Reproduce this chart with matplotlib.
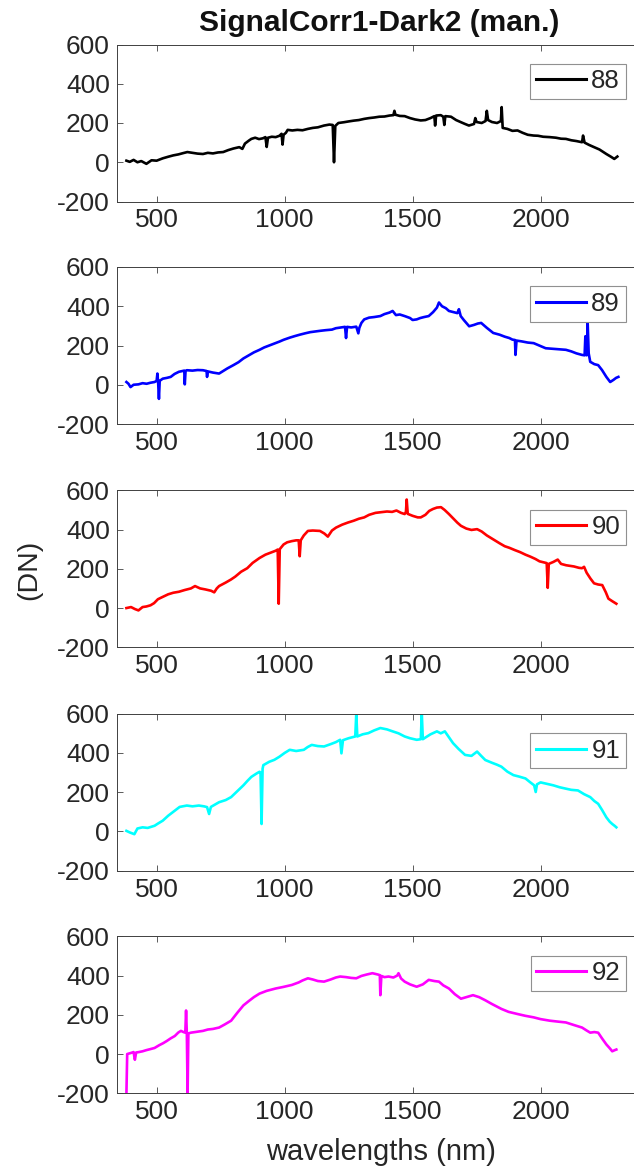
import matplotlib
matplotlib.use('Agg')
import matplotlib.pyplot as plt

plt.rcParams['font.family'] = ['Liberation Sans', 'DejaVu Sans']
plt.rcParams['axes.unicode_minus'] = False

# ---------------- data ----------------
labels = ['88', '89', '90', '91', '92']
colors = ['#000000', '#0000ff', '#ff0000', '#00ffff', '#ff00ff']
xticks = [500, 1000, 1500, 2000]
yticks = [-200, 0, 200, 400, 600]
title = 'SignalCorr1-Dark2 (man.)'
xlabel = 'wavelengths (nm)'
ylabel = '(DN)'

wl88 = [382, 395, 410, 425, 440, 460, 480, 500, 524, 545, 565, 585, 602, 620, 640, 660, 681, 700, 720, 740,
        760, 780, 800, 823, 835, 845, 860, 870, 885, 900, 915, 925, 930, 935, 950, 965, 980, 988, 992, 996,
        1005, 1012, 1030, 1050, 1070, 1091, 1110, 1130, 1154, 1175, 1188, 1193, 1198, 1210, 1232, 1250, 1270,
        1290, 1311, 1330, 1350, 1370, 1390, 1410, 1425, 1429, 1433, 1450, 1469, 1490, 1510, 1532, 1550, 1570,
        1585, 1588, 1592, 1610, 1620, 1624, 1628, 1650, 1670, 1689, 1705, 1720, 1740, 1745, 1750, 1770, 1785,
        1790, 1795, 1810, 1830, 1845, 1848, 1852, 1870, 1890, 1910, 1930, 1950, 1973, 1990, 2010, 2036, 2060,
        2080, 2099, 2120, 2140, 2162, 2166, 2172, 2190, 2209, 2230, 2257, 2275, 2288, 2300]
dn88 = [8, 2, 12, 0, 6, -8, 10, 8, 20, 28, 35, 40, 46, 52, 48, 44, 42, 48, 45, 50,
        52, 62, 70, 77, 68, 95, 110, 119, 125, 118, 122, 128, 78, 125, 130, 128, 135, 145, 90, 140,
        150, 165, 162, 165, 163, 170, 175, 178, 187, 192, 190, 0, 185, 200, 204, 208, 212,
        215, 221, 225, 228, 232, 233, 238, 240, 262, 242, 236, 235, 225, 218, 213, 215, 225,
        235, 187, 238, 240, 232, 190, 235, 232, 215, 204, 195, 187, 195, 225, 205, 200, 210,
        262, 215, 205, 200, 210, 281, 175, 170, 160, 162, 150, 140, 136, 135, 130, 128, 125,
        120, 119, 112, 108, 102, 136, 100, 88, 77, 65, 42, 28, 17, 29]

wl89 = [382, 390, 398, 410, 429, 445, 461, 475, 492, 500, 503, 506, 509, 512, 524, 540, 555, 570, 587, 600,
        608, 610, 613, 618, 640, 660, 681, 695, 697, 700, 720, 744, 760, 776, 800, 820, 839, 860, 880, 902,
        920, 940, 965, 980, 996, 1020, 1040, 1059, 1080, 1100, 1122, 1140, 1160, 1185, 1200, 1220, 1236, 1240,
        1244, 1260, 1280, 1288, 1292, 1300, 1311, 1330, 1350, 1374, 1390, 1410, 1422, 1435, 1450, 1469, 1490,
        1500, 1516, 1530, 1545, 1563, 1580, 1595, 1603, 1615, 1630, 1642, 1660, 1675, 1681, 1688, 1700, 1721,
        1740, 1755, 1768, 1790, 1815, 1840, 1860, 1878, 1890, 1900, 1902, 1906, 1926, 1950, 1973, 1995, 2020,
        2050, 2075, 2099, 2120, 2140, 2162, 2172, 2175, 2180, 2184, 2188, 2194, 2210, 2225, 2240, 2257, 2272,
        2285, 2295, 2304]
dn89 = [14, 5, -12, 0, 2, 8, 5, 10, 14, 20, 57, 10, -72, 20, 31, 35, 40, 55, 66, 70,
        72, 2, 70, 74, 72, 75, 74, 70, 40, 68, 62, 57, 70, 83, 100, 115, 134, 150, 165, 178,
        190, 200, 212, 220, 229, 240, 248, 255, 262, 268, 272, 275, 278, 281, 288, 292, 295, 238,
        295, 292, 296, 262, 290, 315, 333, 342, 345, 350, 360, 368, 376, 355, 358, 350, 340,
        330, 333, 340, 345, 350, 370, 393, 419, 400, 390, 376, 370, 365, 385, 350, 330, 298,
        305, 312, 315, 290, 264, 255, 245, 238, 230, 228, 152, 225, 221, 215, 212, 200, 186,
        183, 180, 178, 170, 160, 152, 150, 247, 150, 316, 160, 117, 105, 100, 75, 40, 14,
        25, 35, 40]

wl90 = [382, 400, 415, 429, 445, 460, 476, 490, 505, 524, 545, 565, 587, 610, 634, 650, 670, 690, 713, 725,
        735, 744, 770, 790, 807, 830, 854, 875, 902, 925, 949, 965, 973, 977, 981, 996, 1010, 1028, 1045, 1055,
        1059, 1063, 1075, 1091, 1110, 1138, 1155, 1169, 1185, 1201, 1225, 1248, 1270, 1290, 1311, 1330, 1355,
        1374, 1400, 1420, 1437, 1455, 1469, 1474, 1477, 1481, 1500, 1520, 1532, 1550, 1565, 1580, 1595, 1611,
        1625, 1642, 1660, 1675, 1689, 1710, 1730, 1752, 1770, 1790, 1815, 1840, 1860, 1878, 1900, 1920, 1941,
        1960, 1980, 1996, 2015, 2024, 2028, 2032, 2050, 2067, 2080, 2100, 2130, 2150, 2162, 2170, 2180, 2195,
        2209, 2225, 2241, 2255, 2265, 2280, 2296]
dn90 = [0, 5, -5, -12, 5, 8, 14, 25, 45, 57, 70, 78, 83, 92, 100, 112, 100, 95, 88, 80,
        100, 112, 130, 145, 160, 185, 203, 230, 255, 272, 284, 292, 298, 22, 300, 324, 335, 341, 345, 345,
        264, 345, 370, 393, 395, 393, 380, 364, 395, 410, 425, 436, 445, 455, 462, 475, 485,
        488, 492, 490, 497, 485, 479, 490, 553, 480, 470, 462, 462, 475, 495, 505, 512, 514,
        500, 479, 455, 435, 419, 405, 398, 402, 390, 370, 350, 330, 315, 307, 295, 285, 272,
        262, 250, 238, 232, 229, 103, 225, 235, 247, 225, 218, 212, 205, 203, 210, 180, 150,
        126, 120, 117, 80, 48, 35, 22]

wl91 = [382, 395, 413, 425, 445, 465, 492, 505, 524, 545, 571, 590, 618, 640, 665, 685, 697, 705, 712, 744,
        770, 791, 815, 839, 855, 870, 890, 902, 906, 910, 914, 917, 940, 960, 980, 1000, 1020, 1045, 1075, 1090,
        1106, 1130, 1154, 1180, 1200, 1217, 1222, 1228, 1250, 1276, 1280, 1284, 1305, 1327, 1350, 1374, 1400,
        1422, 1445, 1469, 1490, 1516, 1532, 1536, 1540, 1547, 1570, 1595, 1610, 1626, 1642, 1658, 1680, 1705,
        1730, 1752, 1768, 1784, 1810, 1830, 1847, 1870, 1894, 1915, 1941, 1960, 1975, 1981, 1986, 2000, 2020,
        2050, 2075, 2099, 2120, 2146, 2170, 2194, 2210, 2225, 2240, 2257, 2270, 2280, 2290, 2296]
dn91 = [3, -5, -14, 15, 21, 18, 29, 40, 55, 80, 106, 125, 132, 128, 132, 128, 124, 89, 125, 149,
        160, 175, 205, 235, 258, 278, 295, 304, 300, 38, 320, 338, 355, 365, 381, 400, 416, 410, 416, 430,
        441, 435, 433, 445, 455, 467, 398, 465, 475, 484, 600, 484, 495, 501, 515, 527, 520,
        510, 500, 484, 475, 467, 470, 600, 470, 476, 495, 510, 500, 510, 480, 450, 420, 390,
        385, 407, 385, 364, 350, 340, 330, 305, 287, 280, 270, 250, 235, 201, 240, 250, 244,
        235, 225, 218, 212, 209, 190, 175, 155, 141, 110, 72, 50, 38, 28, 21]

wl92 = [382, 385, 398, 410, 415, 420, 430, 445, 460, 475, 492, 510, 525, 539, 555, 571, 585, 595, 605, 612,
        615, 618, 621, 624, 634, 650, 665, 681, 700, 720, 744, 765, 791, 815, 839, 860, 880, 902, 930, 965,
        995, 1028, 1055, 1070, 1091, 1110, 1130, 1154, 1180, 1200, 1217, 1240, 1260, 1280, 1300, 1320, 1343,
        1365, 1372, 1374, 1378, 1390, 1406, 1425, 1440, 1445, 1455, 1469, 1490, 1516, 1540, 1563, 1585, 1603,
        1620, 1642, 1665, 1689, 1710, 1736, 1760, 1784, 1810, 1847, 1875, 1910, 1940, 1973, 2000, 2036, 2070,
        2099, 2130, 2162, 2180, 2194, 2210, 2225, 2240, 2257, 2270, 2280, 2290, 2296]
dn92 = [-200, 0, 5, 10, -29, 8, 10, 14, 20, 25, 31, 45, 55, 66, 80, 92, 110, 118, 112, 109,
        222, 105, -200, 105, 109, 112, 115, 118, 125, 128, 135, 150, 170, 210, 248, 270, 290, 308, 322, 334,
        342, 352, 365, 375, 386, 380, 372, 369, 380, 390, 395, 392, 388, 386, 398, 405, 412,
        405, 402, 300, 398, 392, 395, 390, 400, 412, 385, 369, 355, 343, 355, 378, 372, 369,
        350, 334, 305, 282, 290, 300, 290, 274, 255, 230, 215, 204, 195, 187, 178, 170, 165,
        161, 148, 135, 120, 109, 112, 109, 80, 49, 30, 14, 20, 23]

series_wl = [wl88, wl89, wl90, wl91, wl92]
series_dn = [dn88, dn89, dn90, dn91, dn92]

# ---------------- figure ----------------
W, H = 634, 1176
fig = plt.figure(figsize=(W / 100, H / 100), dpi=100)
txt = '#262626'

left_px, right_px = 116.7, 645.0
bottoms_px = [201.5, 424.0, 647.3, 870.7, 1093.3]
h_px = 157.0

for i in range(5):
    ax = fig.add_axes([left_px / W, 1 - bottoms_px[i] / H, (right_px - left_px) / W, h_px / H])
    ax.plot(series_wl[i], series_dn[i], color=colors[i], lw=1.9, label=labels[i])
    ax.set_xlim(344, 2408)
    ax.set_ylim(-200, 600)
    ax.set_xticks(xticks)
    ax.set_yticks(yticks)
    ax.tick_params(direction='in', length=4.5, width=0.6, top=True, right=True,
                   labelsize=19, color='#404040', labelcolor=txt)
    ax.tick_params(axis='x', pad=5)
    ax.tick_params(axis='y', pad=5)
    for s in ax.spines.values():
        s.set_color('#404040')
        s.set_linewidth(0.7)
    leg = ax.legend(loc='upper right', bbox_to_anchor=(0.9635, 0.877), borderaxespad=0,
                    fancybox=False, edgecolor='#909090', fontsize=18.5, handlelength=1.95,
                    handletextpad=0.2, borderpad=0.22, framealpha=1)
    leg.get_frame().set_linewidth(0.8)
    for line in leg.get_lines():
        line.set_linewidth(2.2)
    for t in leg.get_texts():
        t.set_color(txt)

fig.text(379 / W, 1 - 23 / H, title, ha='center', va='center', fontsize=21.5, fontweight='bold', color='#111111')
fig.text(381 / W, 1 - 1151.7 / H, xlabel, ha='center', va='center', fontsize=21, color=txt)
fig.text(29 / W, 1 - 569.5 / H, ylabel, ha='center', va='center', rotation=90, fontsize=20.5, color=txt)

fig.savefig('out.png', dpi=100)
